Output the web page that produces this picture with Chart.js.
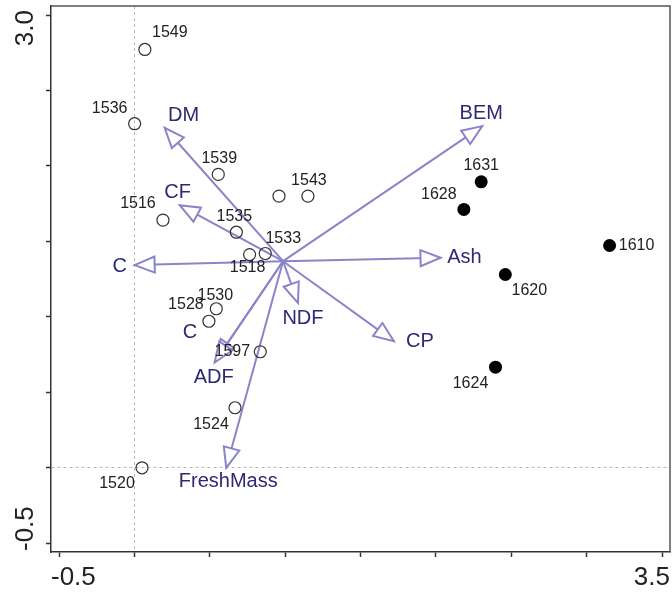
<!DOCTYPE html>
<html>
<head>
<meta charset="utf-8">
<script src="https://cdn.jsdelivr.net/npm/chart.js@4.4.1/dist/chart.umd.min.js"></script>
<style>
  html, body { margin: 0; padding: 0; background: #fff; }
  canvas { display: block; }
</style>
</head>
<body>
<canvas id="biplot" width="672" height="592"></canvas>
<script>
// samples, group 1 (open circles)
const openIds = ['1549', '1536', '1539', '', '1543', '1516', '1535', '1518', '1533', '1530', '1528', '1597', '1524', '1520'];
const openX = [0.068, 0.000, 0.555, 0.958, 1.150, 0.188, 0.675, 0.763, 0.867, 0.542, 0.493, 0.834, 0.666, 0.049];
const openY = [2.772, 2.280, 1.944, 1.800, 1.800, 1.641, 1.561, 1.413, 1.420, 1.054, 0.971, 0.769, 0.398, 0.000];

// samples, group 2 (filled circles)
const filledIds = ['1631', '1628', '1610', '1620', '1624'];
const filledX = [2.300, 2.185, 3.152, 2.460, 2.395];
const filledY = [1.895, 1.712, 1.473, 1.281, 0.667];

// variable vectors, all drawn from the same origin
const arrowOrigin = [0.985, 1.369];
const arrowNames = ['DM', 'CF', 'C', 'BEM', 'Ash', 'NDF', 'CP', 'C', 'ADF', 'FreshMass'];
const arrowX = [0.199, 0.299, 0.000, 2.307, 2.030, 1.084, 1.721, 0.540, 0.531, 0.608];
const arrowY = [2.253, 1.740, 1.343, 2.264, 1.392, 1.093, 0.839, 0.715, 0.698, 0.000];

// axes
const xTicks = [-0.5, 0, 0.5, 1, 1.5, 2, 2.5, 3, 3.5];
const yTicks = [-0.5, 0, 0.5, 1, 1.5, 2, 2.5, 3];
const xEndLabels = ['-0.5', '3.5'];
const yEndLabels = ['-0.5', '3.0'];

// view window (frame sits a little outside the end ticks)
const X_MIN = -0.555, X_MAX = 3.553;
const Y_MIN = -0.558, Y_MAX = 3.06;

// label placement in pixels, relative to the mark
const openLabelPos = [[25, -17], [-25, -15], [1, -16], [0, 0], [1, -16], [-25, -17], [-2, -16], [-2, 13], [18, -15], [-1, -13], [-23, -17], [-28, 0], [-24, 17], [-25, 16]];
const filledLabelPos = [[0, -16], [-25, -15], [27, 0], [24, 16], [-25, 16]];
const arrowLabelPos = [[19, -12], [-2, -13], [-15, 1], [-1, -13], [24, 0], [5, 16], [26, 0], [-26, -27], [-1, 15], [2, 14]];

const FONT = '"Liberation Sans", Arial, sans-serif';
const ARROW_COLOR = '#8a84c9';
const ARROW_TEXT = '#2c2975';
const AXIS_COLOR = '#333';

const toPoints = (xs, ys) => xs.map((v, i) => ({ x: v, y: ys[i] }));

const arrowSets = arrowNames.map((name, i) => ({
  type: 'line',
  label: name,
  data: [{ x: arrowOrigin[0], y: arrowOrigin[1] }, { x: arrowX[i], y: arrowY[i] }],
  borderColor: ARROW_COLOR,
  borderWidth: 2,
  pointRadius: 0,
  fill: false,
  order: 2
}));

const biplotOverlay = {
  id: 'biplotOverlay',
  beforeDatasetsDraw(chart) {
    const { ctx, chartArea: a } = chart;
    ctx.save();
    ctx.strokeStyle = '#555';
    ctx.lineWidth = 1.5;
    ctx.beginPath();
    ctx.moveTo(a.left, a.top);
    ctx.lineTo(a.right, a.top);
    ctx.lineTo(a.right, a.bottom);
    ctx.stroke();

    // y end labels, rotated
    ctx.fillStyle = '#222';
    ctx.font = '26px ' + FONT;
    ctx.textBaseline = 'middle';
    ctx.translate(a.left - 25, 0);
    ctx.rotate(-Math.PI / 2);
    ctx.textAlign = 'left';
    ctx.fillText(yEndLabels[0], -(a.bottom - 1), 0);
    ctx.textAlign = 'right';
    ctx.fillText(yEndLabels[1], -(a.top + 4), 0);
    ctx.restore();
  },
  afterDatasetsDraw(chart) {
    const { ctx, scales: { x, y } } = chart;
    ctx.save();
    const ox = x.getPixelForValue(arrowOrigin[0]);
    const oy = y.getPixelForValue(arrowOrigin[1]);

    // open arrow heads
    arrowNames.forEach((name, i) => {
      const tx = x.getPixelForValue(arrowX[i]);
      const ty = y.getPixelForValue(arrowY[i]);
      const ang = Math.atan2(ty - oy, tx - ox);
      const len = 20, half = 8;
      const bx = tx - Math.cos(ang) * len;
      const by = ty - Math.sin(ang) * len;
      ctx.beginPath();
      ctx.moveTo(tx, ty);
      ctx.lineTo(bx + Math.sin(ang) * half, by - Math.cos(ang) * half);
      ctx.lineTo(bx - Math.sin(ang) * half, by + Math.cos(ang) * half);
      ctx.closePath();
      ctx.fillStyle = '#fff';
      ctx.fill();
      ctx.strokeStyle = ARROW_COLOR;
      ctx.lineWidth = 2;
      ctx.stroke();
    });

    ctx.textAlign = 'center';
    ctx.textBaseline = 'middle';

    // arrow names
    ctx.font = '20px ' + FONT;
    ctx.fillStyle = ARROW_TEXT;
    arrowNames.forEach((name, i) => {
      ctx.fillText(name,
        x.getPixelForValue(arrowX[i]) + arrowLabelPos[i][0],
        y.getPixelForValue(arrowY[i]) + arrowLabelPos[i][1]);
    });

    // sample ids
    ctx.font = '16px ' + FONT;
    ctx.fillStyle = '#222';
    openIds.forEach((id, i) => {
      if (!id) return;
      ctx.fillText(id,
        x.getPixelForValue(openX[i]) + openLabelPos[i][0],
        y.getPixelForValue(openY[i]) + openLabelPos[i][1]);
    });
    filledIds.forEach((id, i) => {
      ctx.fillText(id,
        x.getPixelForValue(filledX[i]) + filledLabelPos[i][0],
        y.getPixelForValue(filledY[i]) + filledLabelPos[i][1]);
    });
    ctx.restore();
  }
};

const zeroGrid = c => (c.tick && c.tick.value === 0) ? '#b8b8b8' : 'rgba(0,0,0,0)';
const zeroDash = c => (c.tick && c.tick.value === 0) ? [3, 3] : [];

new Chart(document.getElementById('biplot'), {
  type: 'scatter',
  data: {
    datasets: [
      {
        label: 'group 1',
        data: toPoints(openX, openY),
        pointRadius: 6,
        pointBorderWidth: 1.2,
        pointBorderColor: '#333',
        pointBackgroundColor: 'rgba(255,255,255,0)',
        order: 1
      },
      {
        label: 'group 2',
        data: toPoints(filledX, filledY),
        pointRadius: 6.5,
        pointBorderWidth: 0,
        pointBackgroundColor: '#000',
        order: 1
      },
      ...arrowSets
    ]
  },
  options: {
    responsive: false,
    animation: false,
    devicePixelRatio: 1,
    layout: { autoPadding: false, padding: { top: 6, right: 2, left: 0, bottom: 0 } },
    plugins: {
      legend: { display: false },
      tooltip: { enabled: false }
    },
    scales: {
      x: {
        type: 'linear',
        min: X_MIN,
        max: X_MAX,
        afterBuildTicks: axis => {
          axis.ticks = [X_MIN, ...xTicks, X_MAX].map(v => ({ value: v }));
        },
        afterFit: axis => {
          axis.height = 40;
          axis.paddingLeft = 0;
          axis.paddingRight = 0;
        },
        grid: {
          color: zeroGrid,
          lineWidth: 1,
          tickLength: 5,
          tickWidth: 1.5,
          tickColor: c => (c.tick && (c.tick.value === X_MIN || c.tick.value === X_MAX)) ? 'rgba(0,0,0,0)' : AXIS_COLOR
        },
        border: { color: AXIS_COLOR, width: 1.5, dash: zeroDash },
        ticks: {
          autoSkip: false,
          maxRotation: 0,
          align: 'inner',
          padding: 5,
          color: '#222',
          font: { family: FONT, size: 26 },
          callback: (v, i, ticks) => i === 0 ? xEndLabels[0] : (i === ticks.length - 1 ? xEndLabels[1] : '')
        }
      },
      y: {
        type: 'linear',
        min: Y_MIN,
        max: Y_MAX,
        afterBuildTicks: axis => {
          axis.ticks = yTicks.map(v => ({ value: v }));
        },
        afterFit: axis => {
          axis.width = 51;
          axis.paddingTop = 0;
          axis.paddingBottom = 0;
        },
        grid: {
          color: zeroGrid,
          lineWidth: 1,
          tickLength: 5,
          tickWidth: 1.5,
          tickColor: AXIS_COLOR
        },
        border: { color: AXIS_COLOR, width: 1.5, dash: zeroDash },
        ticks: { display: false }
      }
    }
  },
  plugins: [biplotOverlay]
});
</script>
</body>
</html>
